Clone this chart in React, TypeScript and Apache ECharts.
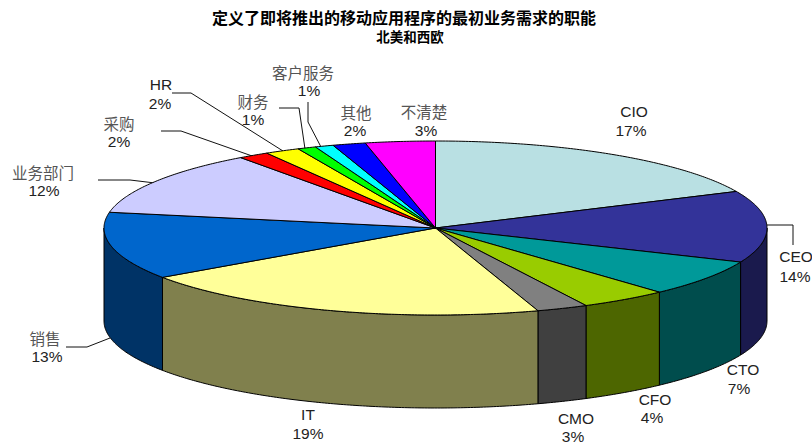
import React, { useEffect, useRef } from "react";
import * as echarts from "echarts";

const titleText = "定义了即将推出的移动应用程序的最初业务需求的职能";
const subtitleText = "北美和西欧";
const categories = ["CIO", "CEO", "CTO", "CFO", "CMO", "IT", "销售", "业务部门", "采购", "HR", "财务", "客户服务", "其他", "不清楚"];
// Printed percentages
const percentLabels = ["17%", "14%", "7%", "4%", "3%", "19%", "13%", "12%", "2%", "2%", "1%", "1%", "2%", "3%"];
// Slice shares as drawn in the picture
const sliceValues = [18.1, 13.3, 6.8, 4.3, 2.5, 20.4, 12.5, 12.1, 1.5, 1.7, 0.9, 0.9, 1.6, 3.4];
const topColors = ["#B9E0E3", "#333399", "#009999", "#99CC00", "#808080", "#FFFF99", "#0066CC", "#CCCCFF", "#FF0000", "#FFFF00", "#00FF00", "#00FFFF", "#0000FF", "#FF00FF"];
const sideColors = ["#5D7072", "#1A1A4D", "#004D4D", "#4D6600", "#404040", "#80804D", "#003366", "#666680", "#800000", "#808000", "#008000", "#008080", "#000080", "#800080"];

const CX = 435.5;
const CY = 228;
const RX = 331.5;
const RY = 87;
const DEPTH = 93;
const total = sliceValues.reduce((a, b) => a + b, 0);
const pt = (a: number, dy = 0): number[] => [CX + RX * Math.sin(a), CY - RY * Math.cos(a) + dy];

function arc(a0: number, a1: number, dy = 0): number[][] {
  const n = Math.max(2, Math.ceil(Math.abs(a1 - a0) / 0.01));
  const out: number[][] = [];
  for (let i = 0; i <= n; i++) out.push(pt(a0 + ((a1 - a0) * i) / n, dy));
  return out;
}

const renderSlice = (params: any, api: any) => {
  const i = params.dataIndex;
  const value = api.value(1);
  let before = 0;
  for (let k = 0; k < i; k++) before += sliceValues[k];
  const a0 = (before / total) * Math.PI * 2;
  const a1 = ((before + value) / total) * Math.PI * 2;
  const children: any[] = [];
  const s0 = Math.max(a0, Math.PI / 2);
  const s1 = Math.min(a1, (Math.PI * 3) / 2);
  if (s1 > s0) {
    children.push({
      type: "polygon",
      shape: { points: [...arc(s0, s1), ...arc(s1, s0, DEPTH)] },
      style: { fill: sideColors[i], stroke: "#000", lineWidth: 1, lineJoin: "round" },
    });
  }
  children.push({
    type: "polygon",
    shape: { points: [[CX, CY], ...arc(a0, a1)] },
    style: { fill: topColors[i], stroke: "#000", lineWidth: 1, lineJoin: "round" },
  });
  return { type: "group", children };
};

const LATIN = "'Liberation Sans', Arial, sans-serif";
const CJK = "'Noto Sans CJK SC', sans-serif";
const isCjk = (s: string) => /[^\x00-\x7f]/.test(s);

// [name centre x, name centre y, percent centre x, percent centre y]
const labelPos = [
  [634, 111, 631, 130],
  [796, 256, 795, 276],
  [743, 369, 739, 388],
  [655, 399, 652, 417],
  [576, 418, 573, 436],
  [308, 414, 308, 433],
  [45, 338, 47, 356],
  [43, 172, 44, 190],
  [119, 123, 119, 141],
  [161, 84, 160, 103],
  [253, 101, 253, 119],
  [303, 72, 309, 90],
  [356, 112, 355, 130],
  [424, 111, 426, 130],
];

const leaders = [
  [[172, 93], [191, 93], [283, 151]],
  [[161, 131], [181, 131], [255, 157]],
  [[279, 108], [299, 108], [305, 149]],
  [[308, 102], [308, 122], [321, 147]],
  [[98, 180], [130, 180], [155, 183]],
  [[66, 347], [87, 347], [110, 338]],
  [[767, 225], [793, 225], [793, 245]],
];

function buildGraphics() {
  const els: any[] = [];
  const txt = (s: string, x: number, y: number) => ({
    type: "text",
    x,
    y,
    style: {
      text: s,
      fill: isCjk(s) ? "#555" : "#222",
      font: isCjk(s) ? `15.5px ${CJK}` : `15.5px ${LATIN}`,
      textAlign: "center",
      textVerticalAlign: "middle",
    },
  });
  categories.forEach((c, i) => {
    const p = labelPos[i];
    els.push(txt(c, p[0], p[1]));
    els.push(txt(percentLabels[i], p[2], p[3]));
  });
  leaders.forEach((pts) => {
    els.push({ type: "polyline", shape: { points: pts }, style: { stroke: "#111", lineWidth: 1, fill: "none" } });
  });
  els.push({
    type: "text", x: 404, y: 17,
    style: { text: titleText, fill: "#000", font: `bold 16px ${CJK}`, textAlign: "center", textVerticalAlign: "middle" },
  });
  els.push({
    type: "text", x: 410, y: 35.5,
    style: { text: subtitleText, fill: "#000", font: `bold 13.5px ${CJK}`, textAlign: "center", textVerticalAlign: "middle" },
  });
  return els;
}

export default function App() {
  const ref = useRef<HTMLDivElement>(null);
  useEffect(() => {
    document.body.style.margin = "0";
    const chart = echarts.init(ref.current!, null, { renderer: "svg" });
    chart.setOption({
      animation: false,
      backgroundColor: "#fff",
      graphic: { elements: buildGraphics() },
      series: [
        {
          type: "custom",
          coordinateSystem: "none",
          renderItem: renderSlice,
          data: sliceValues.map((v, i) => ({ name: categories[i], value: [i, v] })),
          silent: true,
        },
      ],
    });
    return () => chart.dispose();
  }, []);
  return <div ref={ref} style={{ width: 812, height: 444 }} />;
}
